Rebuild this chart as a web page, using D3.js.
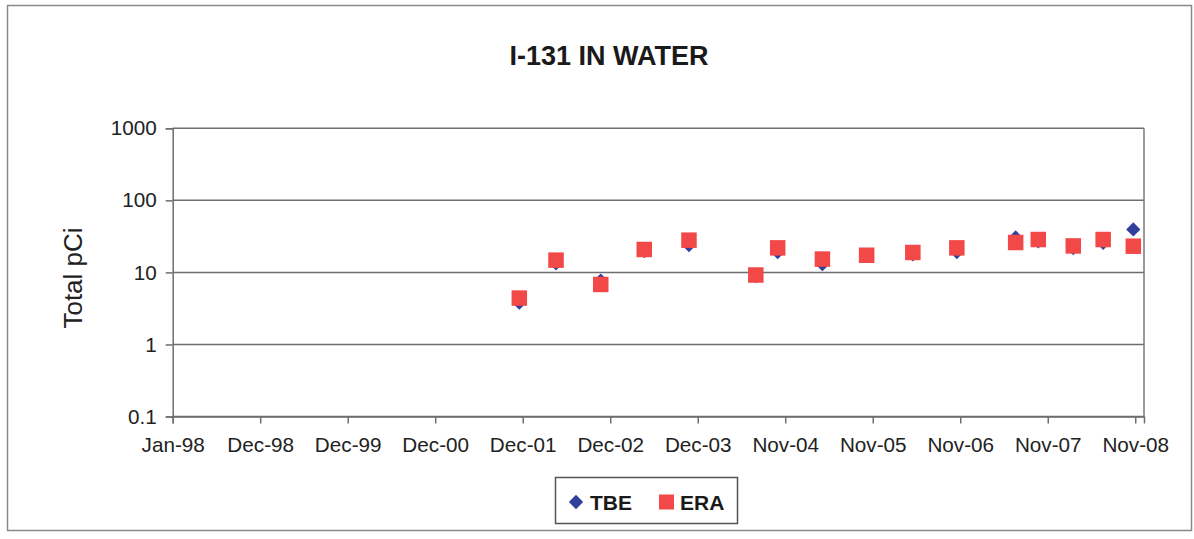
<!DOCTYPE html>
<html>
<head>
<meta charset="utf-8">
<script src="https://cdn.jsdelivr.net/npm/d3@7"></script>
<style>
  html, body { margin: 0; padding: 0; background: #fff; }
  svg { display: block; font-family: "Liberation Sans", Arial, sans-serif; }
</style>
</head>
<body>
<svg id="chart" width="1194" height="539"></svg>
<script>
// I-131 in water: TBE result vs ERA known value, log scale
const sampleDates = [
  "2001-11-27", "2002-04-27", "2002-10-28", "2003-04-25", "2003-10-26",
  "2004-07-27", "2004-10-25", "2005-04-27", "2005-10-26", "2006-05-04",
  "2006-11-01", "2007-07-01", "2007-10-02", "2008-02-23", "2008-06-25",
  "2008-10-27"
];
const tbeValues = [3.8, 13.4, 7.7, 19.8, 24.0, 8.9, 19.1, 13.0, 17.4, 17.8, 19.2, 30.5, 27.0, 21.8, 25.8, 39.5];
const eraValues = [4.4, 14.8, 6.8, 20.8, 28.0, 9.2, 21.9, 15.3, 17.3, 18.9, 21.9, 26.0, 28.6, 23.3, 28.6, 23.1];

const xTickDates = [
  "1998-01-01", "1998-12-27", "1999-12-22", "2000-12-16", "2001-12-11", "2002-12-06",
  "2003-12-01", "2004-11-25", "2005-11-20", "2006-11-15", "2007-11-10", "2008-11-04"
];
const yTickValues = [0.1, 1, 10, 100, 1000];
const xDomain = ["1998-01-01", "2008-12-10"];

const seriesNames = ["TBE", "ERA"];
const colors = { TBE: "#323f9c", ERA: "#f24848" };

const parse = d3.utcParse("%Y-%m-%d");
const fmtDate = d3.utcFormat("%b-%y");

const svg = d3.select("#chart");
const W = 1194, H = 539;

// outer frame
svg.append("rect")
  .attr("x", 7.5).attr("y", 5.5).attr("width", 1184).attr("height", 525)
  .attr("fill", "#fff").attr("stroke", "#8a8a8a").attr("stroke-width", 1.5);

const plot = { left: 172.7, right: 1144, top: 128.3, bottom: 416.5 };

const x = d3.scaleUtc()
  .domain(xDomain.map(parse))
  .range([plot.left, plot.right]);
const y = d3.scaleLog()
  .domain([0.1, 1000])
  .range([plot.bottom, plot.top]);

// title
svg.append("text")
  .attr("x", 609).attr("y", 65)
  .attr("text-anchor", "middle")
  .attr("font-size", 27).attr("font-weight", "bold")
  .attr("fill", "#1a1a1a")
  .text("I-131 IN WATER");

// horizontal gridlines
svg.append("g")
  .selectAll("line")
  .data(yTickValues)
  .join("line")
  .attr("x1", plot.left).attr("x2", plot.right)
  .attr("y1", d => y(d)).attr("y2", d => y(d))
  .attr("stroke", "#6e6e6e").attr("stroke-width", 1.5);

// right edge of plot area
svg.append("line")
  .attr("x1", plot.right).attr("x2", plot.right)
  .attr("y1", plot.top).attr("y2", plot.bottom)
  .attr("stroke", "#7a7a7a").attr("stroke-width", 1.5);

// y axis
const yAxis = svg.append("g")
  .attr("transform", `translate(${plot.left},0)`)
  .call(d3.axisLeft(y).tickValues(yTickValues).tickFormat(d => String(d)).tickSize(7).tickPadding(9));
yAxis.select(".domain").attr("stroke", "#6e6e6e").attr("stroke-width", 1.5);
yAxis.selectAll(".tick line").attr("stroke", "#6e6e6e").attr("stroke-width", 1.5);
yAxis.selectAll(".tick text")
  .attr("font-size", 20.7).attr("fill", "#222")
  .style("font-family", "'Liberation Sans', Arial, sans-serif");

// x axis
const xAxis = svg.append("g")
  .attr("transform", `translate(0,${plot.bottom})`)
  .call(d3.axisBottom(x).tickValues(xTickDates.map(parse)).tickFormat(fmtDate).tickSize(7).tickPadding(14));
xAxis.select(".domain").attr("stroke", "#6e6e6e").attr("stroke-width", 1.5);
xAxis.selectAll(".tick line").attr("stroke", "#6e6e6e").attr("stroke-width", 1.5);
xAxis.selectAll(".tick text")
  .attr("font-size", 20.7).attr("fill", "#222")
  .style("font-family", "'Liberation Sans', Arial, sans-serif");

// y axis title
svg.append("text")
  .attr("transform", "translate(82,278) rotate(-90)")
  .attr("text-anchor", "middle")
  .attr("font-size", 26).attr("fill", "#222")
  .text("Total pCi");

const diamond = d3.symbol().type(d3.symbolDiamond2).size(130);

const points = sampleDates.map((d, i) => ({ date: parse(d), tbe: tbeValues[i], era: eraValues[i] }));

// TBE diamonds (drawn first, ERA squares sit on top)
svg.append("g")
  .selectAll("path")
  .data(points)
  .join("path")
  .attr("d", diamond)
  .attr("transform", d => `translate(${x(d.date)},${y(d.tbe)})`)
  .attr("fill", colors.TBE);

// ERA squares
const sq = 15.5;
svg.append("g")
  .selectAll("rect")
  .data(points)
  .join("rect")
  .attr("x", d => x(d.date) - sq / 2)
  .attr("y", d => y(d.era) - sq / 2)
  .attr("width", sq).attr("height", sq)
  .attr("fill", colors.ERA);

// legend
const legend = svg.append("g");
legend.append("rect")
  .attr("x", 555.5).attr("y", 477.5).attr("width", 182).attr("height", 46)
  .attr("fill", "#fff").attr("stroke", "#555").attr("stroke-width", 1.5);

legend.append("path")
  .attr("d", diamond)
  .attr("transform", "translate(576,502)")
  .attr("fill", colors.TBE);
legend.append("text")
  .attr("x", 590).attr("y", 509.5)
  .attr("font-size", 21).attr("font-weight", "bold").attr("fill", "#1a1a1a")
  .text(seriesNames[0]);

legend.append("rect")
  .attr("x", 659).attr("y", 494.5).attr("width", 15).attr("height", 15)
  .attr("fill", colors.ERA);
legend.append("text")
  .attr("x", 680).attr("y", 509.5)
  .attr("font-size", 21).attr("font-weight", "bold").attr("fill", "#1a1a1a")
  .text(seriesNames[1]);
</script>
</body>
</html>
